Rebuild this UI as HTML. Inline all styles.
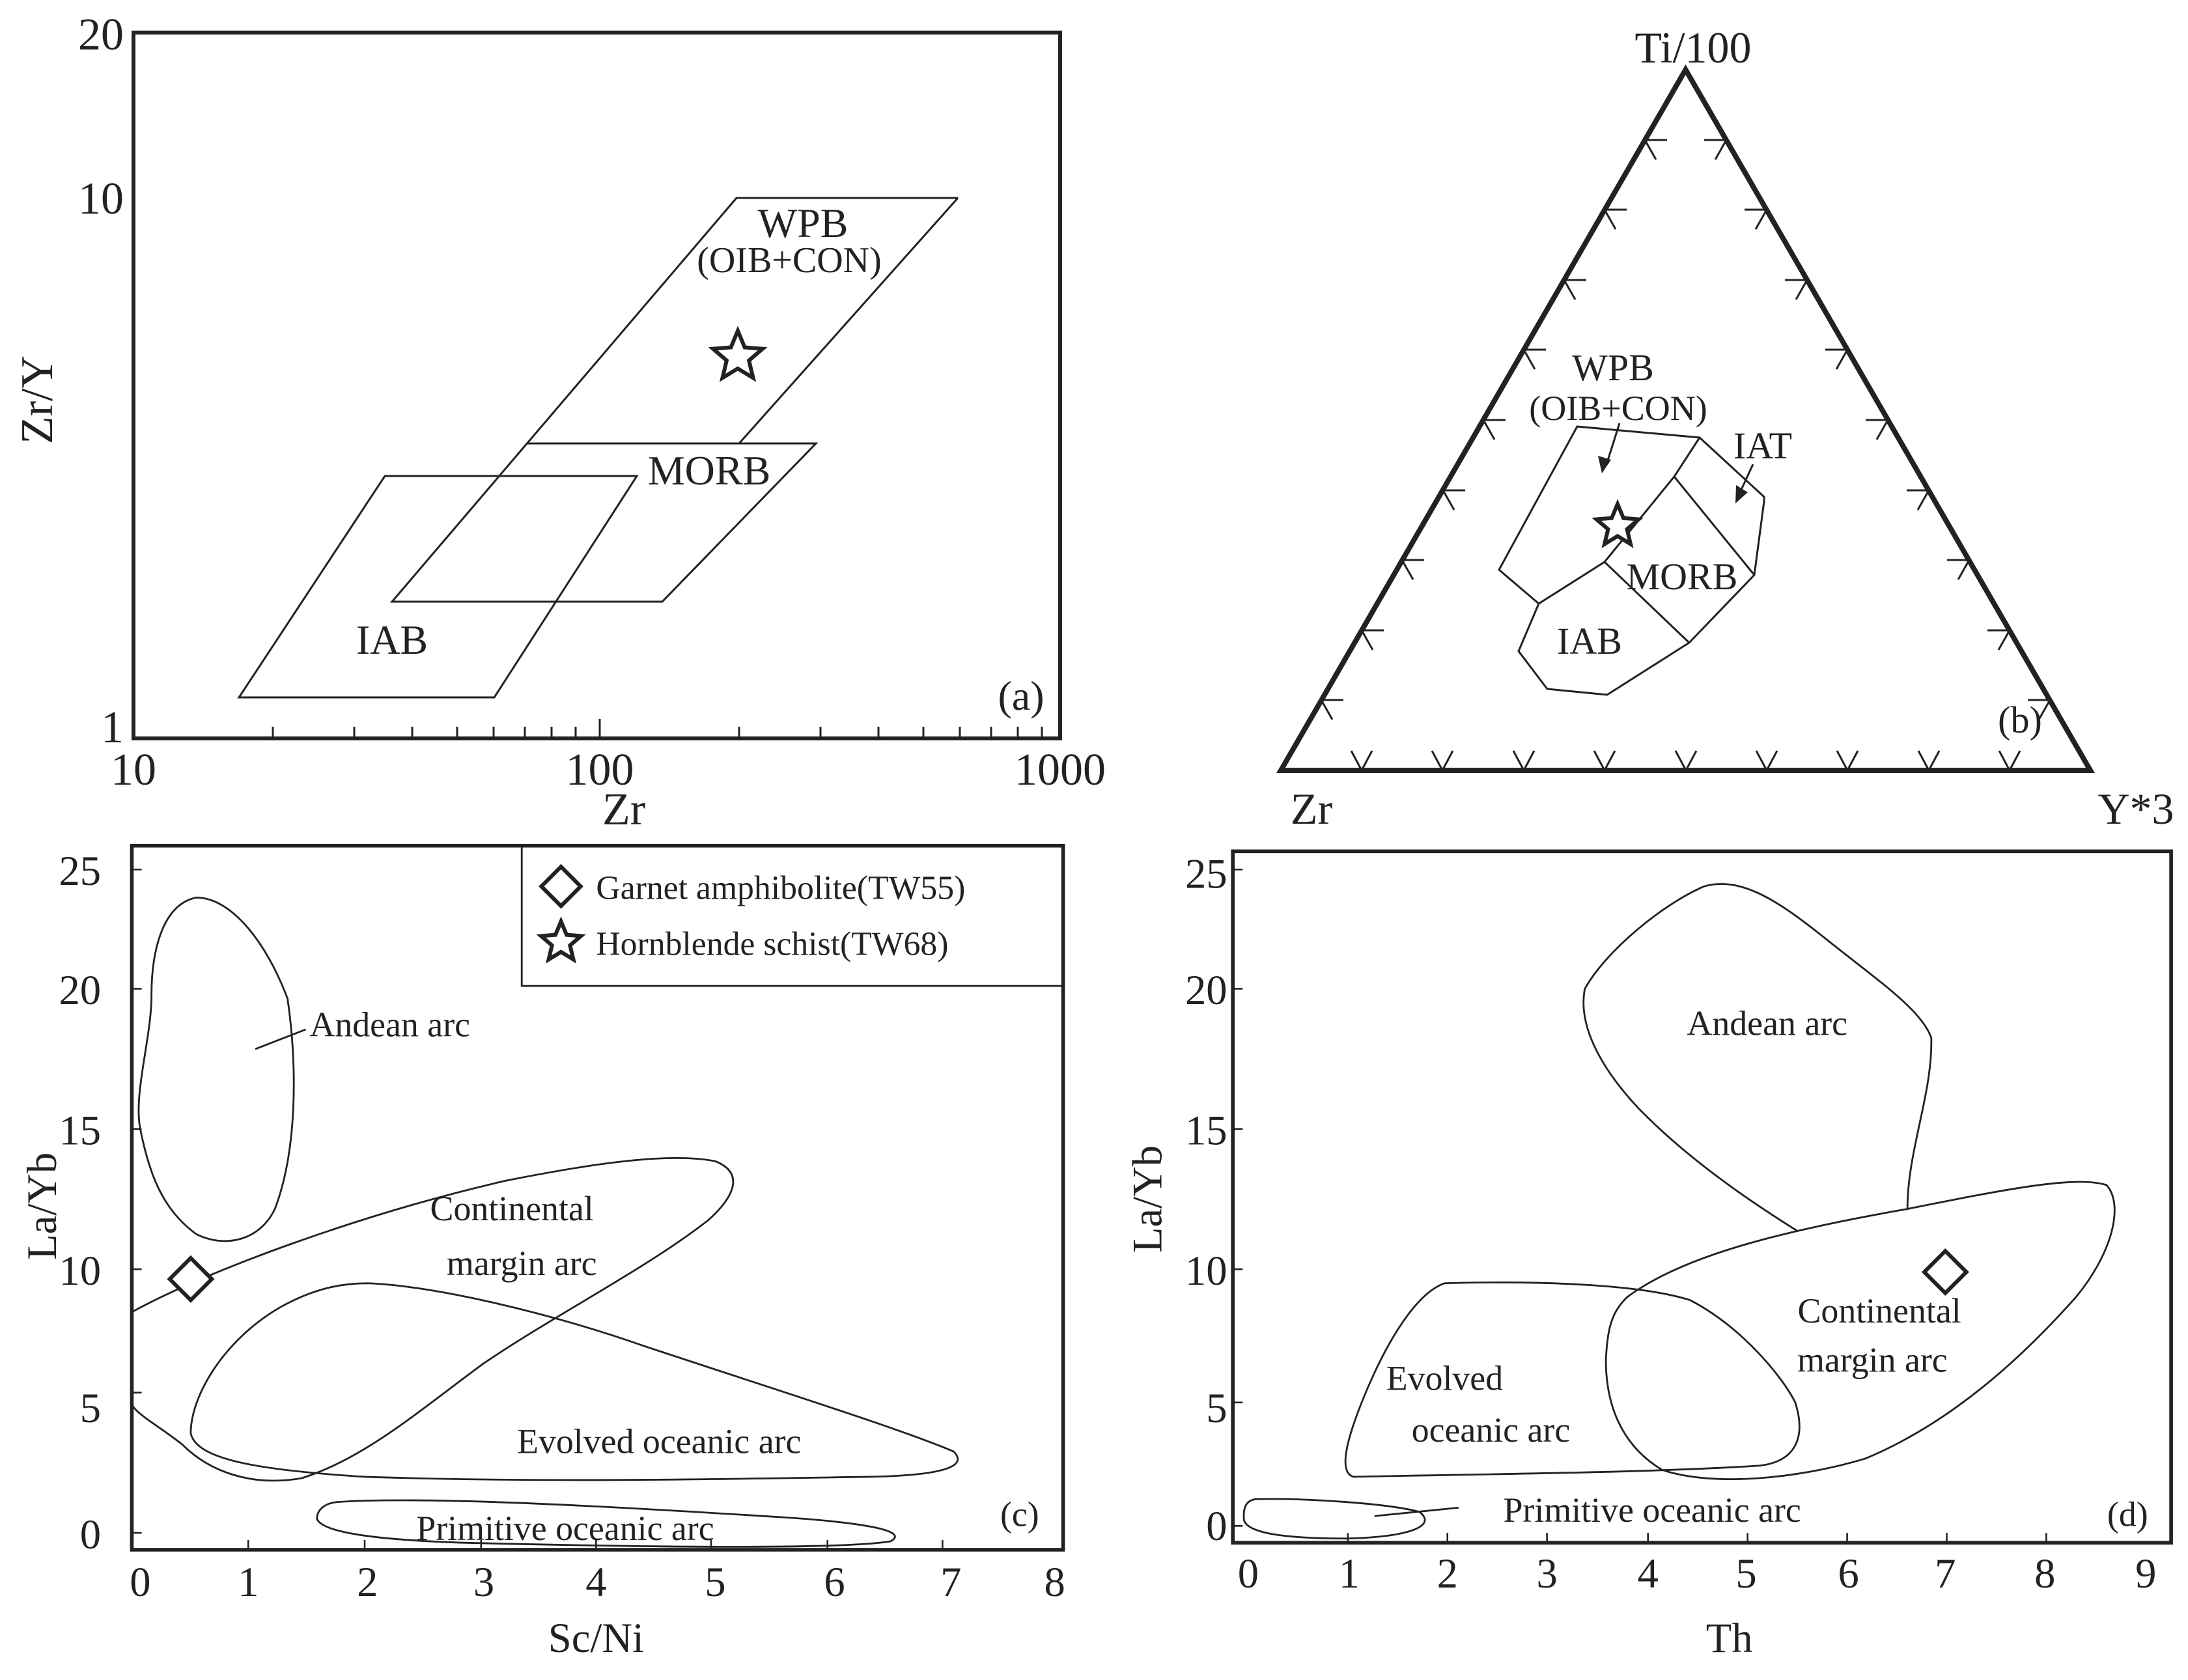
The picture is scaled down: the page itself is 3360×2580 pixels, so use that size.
<!DOCTYPE html>
<html><head><meta charset="utf-8"><style>
html,body{margin:0;padding:0;background:#fff;}
svg{display:block;}
text{font-family:"Liberation Serif",serif;fill:#222;}
</style></head><body>
<svg xmlns="http://www.w3.org/2000/svg" width="3360" height="2580" viewBox="0 0 3360 2580">
<defs>
<polygon id="st" points="0,-1 0.265,-0.364 0.951,-0.309 0.428,0.139 0.588,0.809 0,0.45 -0.588,0.809 -0.428,0.139 -0.951,-0.309 -0.265,-0.364" fill="#fff" stroke="#222" stroke-width="6" vector-effect="non-scaling-stroke" stroke-linejoin="miter"/>
<polygon id="dm" points="0,-1 1,0 0,1 -1,0" fill="#fff" stroke="#222" stroke-width="6" vector-effect="non-scaling-stroke"/>
</defs>
<rect width="3360" height="2580" fill="#fff"/>

<!-- ===== Panel (a) ===== -->
<g fill="none" stroke="#222">
<rect x="205" y="50" width="1423" height="1084" stroke-width="6"/>
<g stroke-width="3">
<path d="M419,1134v-18 M544,1134v-18 M633,1134v-18 M702,1134v-18 M758,1134v-18 M806,1134v-18 M847,1134v-18 M884,1134v-18 M921,1134v-30 M1135,1134v-18 M1260,1134v-18 M1349,1134v-18 M1418,1134v-18 M1474,1134v-18 M1522,1134v-18 M1563,1134v-18 M1600,1134v-18"/>
</g>
<g stroke-width="3">
<polyline points="1471,304 1131,304 602,924 1017,924 1253,681 809,681"/>
<line x1="1471" y1="304" x2="1135" y2="681"/>
<polygon points="591,731 978,731 759,1071 367,1071"/>
</g>
</g>
<use href="#st" transform="translate(1133,548) scale(40)"/>
<g font-size="64" text-anchor="middle">
<text x="1233" y="364">WPB</text>
<text x="1212" y="418" font-size="56">(OIB+CON)</text>
<text x="1089" y="744">MORB</text>
<text x="602" y="1004">IAB</text>
<text x="1568" y="1090">(a)</text>
</g>
<g font-size="70">
<text x="190" y="76" text-anchor="end">20</text>
<text x="190" y="328" text-anchor="end">10</text>
<text x="190" y="1140" text-anchor="end">1</text>
<text x="205" y="1205" text-anchor="middle">10</text>
<text x="921" y="1205" text-anchor="middle">100</text>
<text x="1628" y="1205" text-anchor="middle">1000</text>
<text x="958" y="1266" text-anchor="middle">Zr</text>
<text transform="translate(80,614) rotate(-90)" text-anchor="middle">Zr/Y</text>
</g>

<!-- ===== Panel (b) ===== -->
<g fill="none" stroke="#222">
<polygon points="1967,1183 3210,1183 2588.5,107" stroke-width="8" stroke-linejoin="miter"/>
<g stroke-width="3">
<path d="M2091,1183 l-16,-30 M2091,1183 l16,-30 M2215,1183 l-16,-30 M2215,1183 l16,-30 M2340,1183 l-16,-30 M2340,1183 l16,-30 M2464,1183 l-16,-30 M2464,1183 l16,-30 M2589,1183 l-16,-30 M2589,1183 l16,-30 M2713,1183 l-16,-30 M2713,1183 l16,-30 M2837,1183 l-16,-30 M2837,1183 l16,-30 M2962,1183 l-16,-30 M2962,1183 l16,-30 M3086,1183 l-16,-30 M3086,1183 l16,-30"/>
<path d="M2029,1075 h34 M2029,1075 l17,30 M2091,968 h34 M2091,968 l17,30 M2153,860 h34 M2153,860 l17,30 M2216,753 h34 M2216,753 l17,30 M2278,645 h34 M2278,645 l17,30 M2340,537 h34 M2340,537 l17,30 M2402,430 h34 M2402,430 l17,30 M2464,322 h34 M2464,322 l17,30 M2526,215 h34 M2526,215 l17,30"/>
<path d="M3148,1075 h-34 M3148,1075 l-17,30 M3086,968 h-34 M3086,968 l-17,30 M3024,860 h-34 M3024,860 l-17,30 M2962,753 h-34 M2962,753 l-17,30 M2899,645 h-34 M2899,645 l-17,30 M2837,537 h-34 M2837,537 l-17,30 M2775,430 h-34 M2775,430 l-17,30 M2713,322 h-34 M2713,322 l-17,30 M2651,215 h-34 M2651,215 l-17,30"/>
<polygon points="2422,655 2610,672 2709,763 2709,770 2694,883 2594,987 2468,1067 2376,1058 2332,1000 2363,927 2302,875"/>
<polyline points="2610,672 2571,732 2518,797 2464,863 2363,927"/>
<line x1="2571" y1="732" x2="2694" y2="883"/>
<line x1="2464" y1="863" x2="2594" y2="987"/>
<line x1="2487" y1="650" x2="2468" y2="710"/>
<line x1="2692" y1="713" x2="2674" y2="752"/>
</g>
</g>
<polygon points="2460,727 2454,700 2474,706" fill="#222"/>
<polygon points="2665,773 2666,745 2684,756" fill="#222"/>
<use href="#st" transform="translate(2484,808) scale(34)"/>
<g font-size="58" text-anchor="middle">
<text x="2477" y="584">WPB</text>
<text x="2485" y="645" font-size="54">(OIB+CON)</text>
<text x="2707" y="704">IAT</text>
<text x="2583" y="905">MORB</text>
<text x="2441" y="1004">IAB</text>
<text x="3102" y="1125">(b)</text>
</g>
<g font-size="68" text-anchor="middle">
<text x="2600" y="96">Ti/100</text>
<text x="2014" y="1265">Zr</text>
<text x="3280" y="1265">Y*3</text>
</g>

<!-- ===== Panels (c) and (d) ===== -->
<g transform="scale(2.1538)">
<g fill="none" stroke="#222">
<rect x="94" y="603" width="664" height="502" stroke-width="2.6"/>
<rect x="372" y="603" width="386" height="100" stroke-width="1.3"/>
<path stroke-width="1.2" d="M177,1105v-7 M260,1105v-7 M343,1105v-7 M425,1105v-7 M507,1105v-7 M590,1105v-7 M672,1105v-7 M94,1093h7 M94,993h7 M94,905h7 M94,805h7 M94,705h7 M94,620h7"/>
<g stroke-width="1.3">
<path d="M140,640 C165,640 190,672 205,712 C212,760 212,820 196,862 C185,885 160,890 140,880 C115,862 106,835 100,805 C95,780 108,740 108,710 C108,680 115,645 140,640 Z"/>
<line x1="182" y1="748" x2="218" y2="734"/>
<path d="M95,935 C150,905 260,865 360,842 C430,828 480,822 510,828 C530,836 525,852 505,870 C460,905 400,935 345,972 C300,1005 260,1040 215,1054 C180,1060 150,1050 130,1030 C115,1018 100,1010 95,1003"/>
<path d="M262,915 C300,916 380,932 460,960 C550,990 640,1018 680,1035 C690,1045 675,1052 620,1053 C500,1055 380,1057 260,1053 C180,1048 140,1040 136,1022 C136,995 160,955 200,932 C225,918 245,915 262,915 Z"/>
<path d="M240,1071 C300,1067 420,1073 560,1082 C620,1086 648,1092 635,1099 C600,1105 450,1103 330,1100 C270,1098 230,1093 226,1083 C226,1076 232,1072 240,1071 Z"/>
</g>
<rect x="879" y="607" width="669" height="493" stroke-width="2.6"/>
<path stroke-width="1.2" d="M961,1100v-7 M1032,1100v-7 M1103,1100v-7 M1175,1100v-7 M1246,1100v-7 M1317,1100v-7 M1388,1100v-7 M1459,1100v-7 M879,1088h7 M879,1000h7 M879,905h7 M879,805h7 M879,705h7 M879,620h7"/>
<g stroke-width="1.3">
<path d="M1282,878 C1250,858 1205,828 1168,790 C1140,760 1125,730 1130,705 C1145,678 1185,645 1215,632 C1240,625 1265,640 1300,668 C1340,700 1370,720 1377,740 C1378,780 1360,820 1360,862"/>
<path d="M1160,925 C1200,895 1270,878 1360,862 C1430,848 1480,838 1502,845 C1515,860 1505,895 1480,925 C1440,970 1390,1015 1330,1040 C1280,1055 1220,1060 1185,1048 C1155,1030 1145,1000 1145,970 C1146,945 1150,935 1160,925 Z"/>
<path d="M1030,915 C1100,913 1170,916 1205,927 C1240,945 1270,980 1280,1000 C1288,1025 1280,1042 1255,1045 C1180,1050 1060,1051 965,1053 C955,1050 958,1030 975,990 C990,955 1010,922 1030,915 Z"/>
<path d="M895,1069 C930,1068 990,1072 1012,1078 C1025,1088 1005,1096 960,1097 C920,1097 890,1094 887,1084 C886,1074 889,1070 895,1069 Z"/>
<line x1="980" y1="1081" x2="1040" y2="1075"/>
</g>
</g>
<use href="#dm" transform="translate(136,912) scale(15)"/>
<use href="#dm" transform="translate(1387,907) scale(15)"/>
<use href="#dm" transform="translate(400,632) scale(14)"/>
<use href="#st" transform="translate(400,672) scale(15)"/>
<g font-size="24">
<text x="425" y="641">Garnet amphibolite(TW55)</text>
<text x="425" y="681">Hornblende schist(TW68)</text>
</g>
<g font-size="25" text-anchor="middle">
<text x="278" y="739">Andean arc</text>
<text x="365" y="870">Continental</text>
<text x="372" y="909">margin arc</text>
<text x="470" y="1036">Evolved oceanic arc</text>
<text x="403" y="1098">Primitive oceanic arc</text>
<text x="727" y="1088">(c)</text>
<text x="1260" y="738">Andean arc</text>
<text x="1340" y="943">Continental</text>
<text x="1335" y="978">margin arc</text>
<text x="1030" y="991">Evolved</text>
<text x="1063" y="1028">oceanic arc</text>
<text x="1178" y="1085">Primitive oceanic arc</text>
<text x="1517" y="1088">(d)</text>
</g>
<g font-size="30" text-anchor="middle">
<text x="72" y="631" text-anchor="end">25</text>
<text x="72" y="716" text-anchor="end">20</text>
<text x="72" y="816" text-anchor="end">15</text>
<text x="72" y="916" text-anchor="end">10</text>
<text x="72" y="1014" text-anchor="end">5</text>
<text x="72" y="1104" text-anchor="end">0</text>
<text x="100" y="1138">0</text><text x="177" y="1138">1</text><text x="262" y="1138">2</text><text x="345" y="1138">3</text><text x="425" y="1138">4</text><text x="510" y="1138">5</text><text x="595" y="1138">6</text><text x="678" y="1138">7</text><text x="752" y="1138">8</text>
<text x="425" y="1178">Sc/Ni</text>
<text transform="translate(40,860) rotate(-90)">La/Yb</text>
<text x="875" y="633" text-anchor="end">25</text>
<text x="875" y="716" text-anchor="end">20</text>
<text x="875" y="816" text-anchor="end">15</text>
<text x="875" y="916" text-anchor="end">10</text>
<text x="875" y="1014" text-anchor="end">5</text>
<text x="875" y="1098" text-anchor="end">0</text>
<text x="890" y="1132">0</text><text x="962" y="1132">1</text><text x="1032" y="1132">2</text><text x="1103" y="1132">3</text><text x="1175" y="1132">4</text><text x="1245" y="1132">5</text><text x="1318" y="1132">6</text><text x="1387" y="1132">7</text><text x="1458" y="1132">8</text><text x="1530" y="1132">9</text>
<text x="1233" y="1178">Th</text>
<text transform="translate(828,855) rotate(-90)">La/Yb</text>
</g>
</g>
</svg>
</body></html>
